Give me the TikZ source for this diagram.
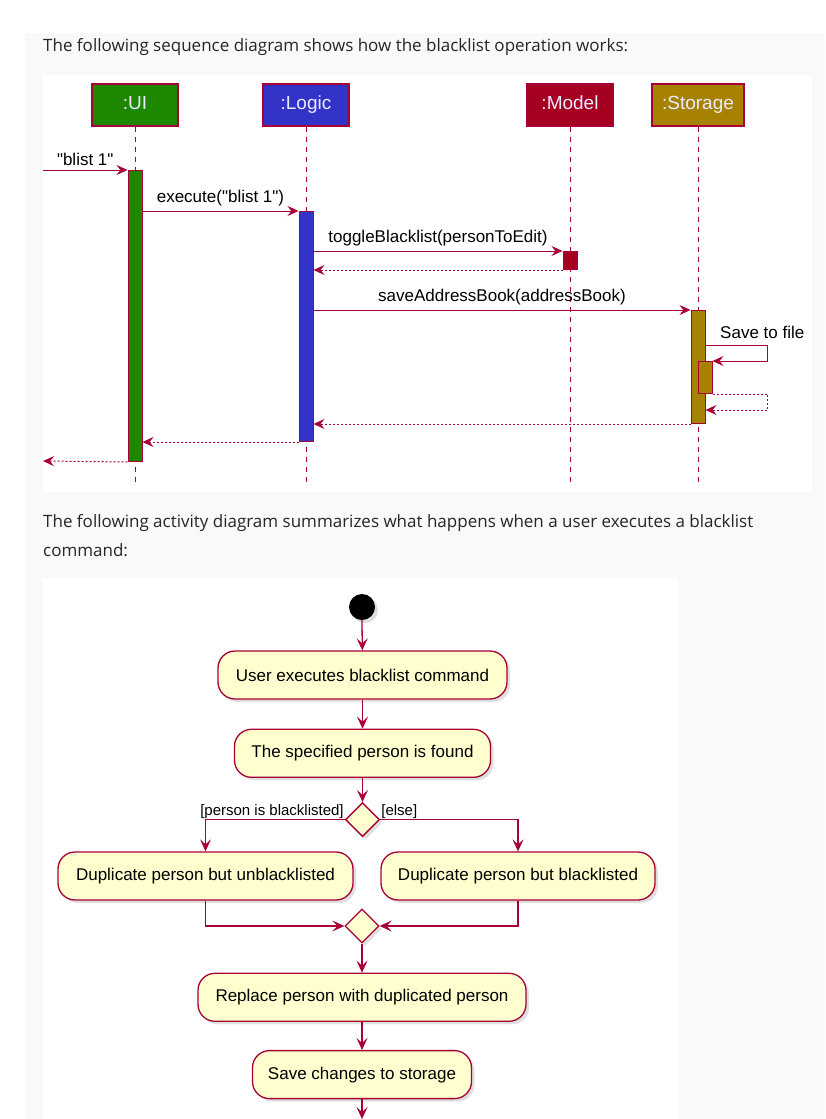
\documentclass[tikz,border=0pt]{standalone}
\usepackage{fontspec}
\setmainfont{Liberation Sans}
\newfontfamily\headfont{Open Sans}
\usetikzlibrary{arrows.meta,positioning,shapes.geometric,shadows}
\definecolor{plum}{HTML}{A80036}
\definecolor{cream}{HTML}{FEFECE}
\definecolor{uigreen}{HTML}{1E8700}
\definecolor{logicblue}{HTML}{3333C8}
\definecolor{modelred}{HTML}{A50021}
\definecolor{storegold}{HTML}{A68200}
\definecolor{pagegray}{HTML}{F9F9F9}

\begin{document}
\begin{tikzpicture}[x=1pt,y=-1pt,font=\fontsize{17}{19}\selectfont,
  head/.style={anchor=west,inner sep=0pt,text=black!85,font=\headfont\fontsize{17}{20}\selectfont},
  lifebox/.style={draw=plum,line width=1.2pt,minimum height=42pt,text height=13pt,text depth=4pt,
    text=white!92!blue,font=\fontsize{19}{21}\selectfont},
  lifeline/.style={draw=plum,line width=1pt,dash pattern=on 5pt off 5pt},
  actbar/.style={draw=plum,line width=1pt,minimum width=14pt,inner sep=0pt,anchor=north},
  msg/.style={draw=plum,line width=1pt,-{Stealth[length=11pt,width=10pt,inset=4pt]}},
  ret/.style={msg,dash pattern=on 2pt off 2pt},
  act/.style={draw=plum,line width=1.3pt,fill=cream,rounded corners=17pt,minimum height=48pt,
    font=\fontsize{17}{19}\selectfont,drop shadow={shadow xshift=3pt,shadow yshift=-3pt,opacity=.25}},
  decide/.style={diamond,draw=plum,line width=1.3pt,fill=cream,minimum width=34pt,minimum height=34pt,inner sep=0pt,
    drop shadow={shadow xshift=3pt,shadow yshift=-3pt,opacity=.25}},
  flow/.style={draw=plum,line width=1.3pt,-{Stealth[length=12pt,width=11pt,inset=5pt]}},
  guard/.style={inner sep=1pt,font=\fontsize{15}{17}\selectfont}]
\useasboundingbox[fill=white] (0,0) rectangle (825,1119);
\fill[pagegray] (25,33) rectangle (825,1119);
\fill[white] (43,75) rectangle (812,492);
\fill[white] (43,578) rectangle (678,1119);

\node[head] (h1) at (43,47) {The following sequence diagram shows how the blacklist operation works:};
\node[head] (h2) at (43,523) {The following activity diagram summarizes what happens when a user executes a blacklist};
\node[head] (h3) at (43,550) {command:};

\node[lifebox,fill=uigreen,minimum width=86pt] (ui) at (135,105) {:UI};
\node[lifebox,fill=logicblue,minimum width=86pt] (logic) at (306,105) {:Logic};
\node[lifebox,fill=modelred,minimum width=87pt] (model) at (570,105) {:Model};
\node[lifebox,fill=storegold,minimum width=92pt] (store) at (698,105) {:Storage};
\foreach \n/\x in {ui/135,logic/306,model/570,store/698}{
  \coordinate (\n End) at (\x,482);
  \draw[lifeline] (\n) -- (\n End);
}

\node[actbar,fill=uigreen,minimum height=291pt] (uiAct) at (135,170) {};
\node[actbar,fill=logicblue,minimum height=230pt] (logicAct) at (306,211) {};
\node[actbar,fill=modelred,minimum height=18pt] (modelAct) at (570,251) {};
\node[actbar,fill=storegold,minimum height=113pt] (storeAct) at (698,310) {};
\node[actbar,fill=storegold,minimum height=32pt] (fileAct) at (705,361) {};

\coordinate (inL) at (43,170);
\coordinate (outL) at (43,461);
\draw[msg] (inL) -- (uiAct.north west) node[midway,above=1pt] {\textquotedbl blist 1\textquotedbl};
\draw[msg] (uiAct.east |- logicAct.north) -- (logicAct.north west) node[midway,above=1pt] {execute(\textquotedbl blist 1\textquotedbl)};
\draw[msg] (logicAct.east |- modelAct.north) -- (modelAct.north west) node[midway,above=1pt] {toggleBlacklist(personToEdit)};
\draw[ret] (modelAct.south west) -- (logicAct.east |- modelAct.south);
\draw[msg] (logicAct.east |- storeAct.north) -- (storeAct.north west) node[midway,above=1pt] {saveAddressBook(addressBook)};
\draw[msg] (storeAct.east |- 0,345) -- ++(62,0) |- (fileAct.north east);
\node[anchor=west,inner sep=0pt] (saveLbl) at (720,332) {Save to file};
\draw[ret] (fileAct.south east) -- ++(55,0) |- (storeAct.east |- 0,410);
\draw[ret] (storeAct.south west) -- (logicAct.east |- storeAct.south);
\draw[ret] (logicAct.south west) -- (uiAct.east |- logicAct.south);
\draw[ret] (uiAct.south west) -- (outL);

\fill[black,drop shadow={shadow xshift=3pt,shadow yshift=-3pt,opacity=.25}] (362,607) circle (13);
\coordinate (start) at (362,620);
\node[act,minimum width=289pt] (a1) at (362.5,675) {User executes blacklist command};
\node[act,minimum width=256pt,below=29pt of a1] (a2) {The specified person is found};
\node[decide,below=24pt of a2] (d1) {};
\node[act,minimum width=295pt] (a3) at (205.5,876) {Duplicate person but unblacklisted};
\node[act,minimum width=274pt] (a4) at (518,876) {Duplicate person but blacklisted};
\node[decide] (d2) at (362,926) {};
\node[act,minimum width=328pt,below=29pt of d2] (a5) {Replace person with duplicated person};
\node[act,minimum width=219pt,below=28pt of a5] (a6) {Save changes to storage};
\coordinate (stop) at (362,1119);

\draw[flow] (start) -- (a1);
\draw[flow] (a1) -- (a2);
\draw[flow] (a2) -- (d1);
\draw[flow] (d1.west) -| (a3);
\draw[flow] (d1.east) -| (a4);
\node[guard,above left=0pt and 0pt of d1.west] (g1) {[person is blacklisted]};
\node[guard,above right=0pt and 0pt of d1.east] (g2) {[else]};
\draw[flow] (a3) |- (d2);
\draw[flow] (a4) |- (d2);
\draw[flow] (d2) -- (a5);
\draw[flow] (a5) -- (a6);
\draw[flow] (a6) -- (stop);
\end{tikzpicture}
\end{document}
